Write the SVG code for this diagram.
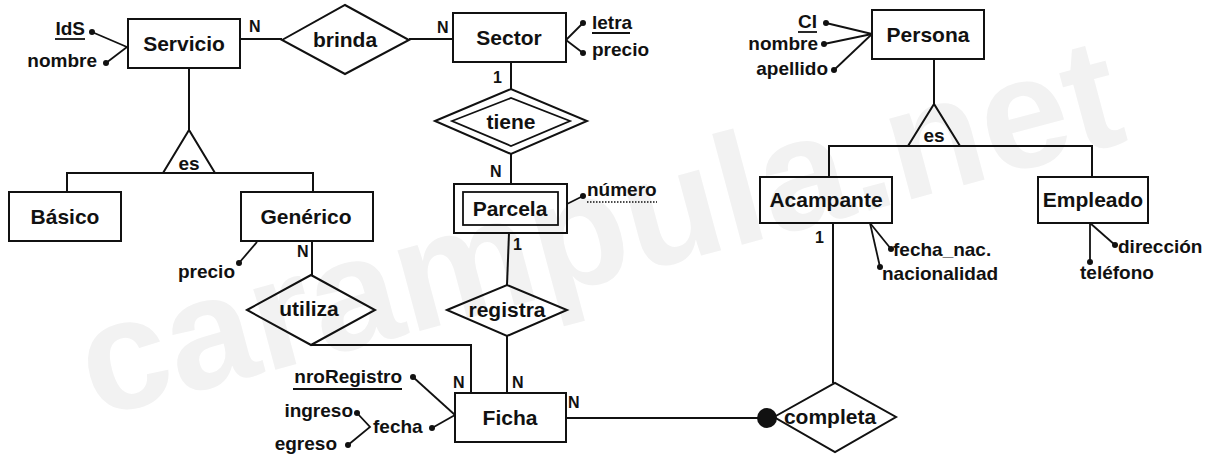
<svg xmlns="http://www.w3.org/2000/svg" width="1216" height="455" viewBox="0 0 1216 455">
<style>
text{font-family:"Liberation Sans",Arial,sans-serif;font-weight:bold;fill:#111}
.ent{font-size:21px;text-anchor:middle}
.rel{font-size:21px;text-anchor:middle}
.att{font-size:19px}
.card{font-size:16px}
.wm{font-size:158px;fill:#f2f2f2}
.box{fill:none;stroke:#111;stroke-width:2}
.ln{fill:none;stroke:#111;stroke-width:2}
.tn{fill:none;stroke:#111;stroke-width:1.8}
.dot{fill:#111}
.end{text-anchor:end}
</style>
<text class="wm" transform="translate(95,418) rotate(-15)">carampula.net</text>

<g id="connectors">
<!-- Servicio attributes -->
<line class="tn" x1="92" y1="32" x2="127" y2="47"/><circle class="dot" cx="92" cy="32" r="3"/>
<line class="tn" x1="106" y1="63" x2="127" y2="47"/><circle class="dot" cx="106" cy="63" r="3"/>
<!-- Servicio ISA -->
<polyline class="ln" points="189,68 189,130"/>
<polyline class="ln" points="67,192 67,173 313,173 313,192"/>
<!-- Servicio brinda Sector -->
<line class="ln" x1="240" y1="39" x2="282" y2="39"/>
<line class="ln" x1="409" y1="39" x2="453" y2="39"/>
<!-- Sector attributes -->
<line class="tn" x1="566" y1="40" x2="583" y2="23"/><circle class="dot" cx="583" cy="23" r="3"/>
<line class="tn" x1="566" y1="40" x2="583" y2="53"/><circle class="dot" cx="583" cy="53" r="3"/>
<!-- Sector tiene Parcela -->
<line class="ln" x1="511" y1="62" x2="511" y2="89"/>
<line class="ln" x1="511" y1="154" x2="511" y2="184"/>
<!-- Parcela attribute -->
<line class="tn" x1="567" y1="204" x2="583" y2="196"/><circle class="dot" cx="583" cy="196" r="3"/>
<!-- Parcela registra Ficha -->
<line class="ln" x1="509" y1="233" x2="507" y2="285"/>
<line class="ln" x1="507" y1="336" x2="507" y2="393"/>
<!-- Generico precio -->
<line class="tn" x1="257" y1="242" x2="239" y2="263"/><circle class="dot" cx="239" cy="263" r="3"/>
<!-- Generico utiliza Ficha -->
<line class="ln" x1="312" y1="241" x2="312" y2="275"/>
<polyline class="ln" points="311,345 471,345 471,393"/>
<!-- Ficha attributes -->
<line class="tn" x1="413" y1="377" x2="455" y2="415"/><circle class="dot" cx="413" cy="377" r="3"/>
<line class="tn" x1="432" y1="428" x2="455" y2="415"/><circle class="dot" cx="432" cy="428" r="3"/>
<polyline class="tn" points="357,413 370,427 348,445"/>
<circle class="dot" cx="357" cy="413" r="3"/><circle class="dot" cx="348" cy="445" r="3"/>
<!-- Ficha completa -->
<line class="ln" x1="566" y1="418" x2="768" y2="418"/>
<circle class="dot" cx="767" cy="418" r="10"/>
<!-- Persona attributes -->
<line class="tn" x1="826" y1="23" x2="872" y2="34"/><circle class="dot" cx="826" cy="23" r="3"/>
<line class="tn" x1="824" y1="44" x2="872" y2="34"/><circle class="dot" cx="824" cy="44" r="3"/>
<line class="tn" x1="834" y1="70" x2="872" y2="34"/><circle class="dot" cx="834" cy="70" r="3"/>
<!-- Persona ISA -->
<line class="ln" x1="934" y1="59" x2="934" y2="104"/>
<polyline class="ln" points="829,177 829,146 1092,146 1092,177"/>
<!-- Acampante completa -->
<line class="ln" x1="833" y1="223" x2="833" y2="383"/>
<!-- Acampante attributes -->
<line class="tn" x1="870" y1="223" x2="891" y2="249"/><circle class="dot" cx="891" cy="249" r="3"/>
<line class="tn" x1="870" y1="223" x2="880" y2="267"/><circle class="dot" cx="880" cy="267" r="3"/>
<!-- Empleado attributes -->
<line class="tn" x1="1090" y1="223" x2="1115" y2="245"/><circle class="dot" cx="1115" cy="245" r="3"/>
<line class="tn" x1="1090" y1="223" x2="1090" y2="262"/><circle class="dot" cx="1090" cy="262" r="3"/>
<!-- cardinalities -->
<text class="card" x="249" y="32">N</text>
<text class="card" x="437" y="33">N</text>
<text class="card" x="493" y="83">1</text>
<text class="card" x="490" y="177">N</text>
<text class="card" x="513" y="250">1</text>
<text class="card" x="297" y="257">N</text>
<text class="card" x="453" y="388">N</text>
<text class="card" x="512" y="388">N</text>
<text class="card" x="568" y="408">N</text>
<text class="card" x="815" y="243">1</text>
</g>

<g id="Servicio"><rect class="box" x="128" y="19" width="112" height="49"/><text class="ent" x="184" y="51">Servicio</text></g>
<g id="attr-IdS"><text class="att end" x="85" y="35">IdS</text><line class="tn" x1="55" y1="39" x2="85" y2="39"/></g>
<g id="attr-Servicio-nombre"><text class="att end" x="97" y="67">nombre</text></g>
<g id="isa-Servicio"><polygon class="box" points="189,130 163,173 215,173"/><text class="rel" x="189" y="170" style="font-size:19px">es</text></g>
<g id="Basico"><rect class="box" x="9" y="192" width="112" height="49"/><text class="ent" x="65" y="224">Básico</text></g>
<g id="Generico"><rect class="box" x="241" y="192" width="132" height="49"/><text class="ent" x="306" y="224">Genérico</text></g>
<g id="attr-Generico-precio"><text class="att end" x="235" y="278">precio</text></g>
<g id="brinda"><polygon class="box" points="282,40 345,5 409,40 345,74"/><text class="rel" x="345" y="47">brinda</text></g>
<g id="Sector"><rect class="box" x="453" y="13" width="113" height="49"/><text class="ent" x="509" y="45">Sector</text></g>
<g id="attr-letra"><text class="att" x="592" y="29">letra</text><line class="tn" x1="592" y1="33" x2="630" y2="33"/></g>
<g id="attr-Sector-precio"><text class="att" x="592" y="56">precio</text></g>
<g id="tiene"><polygon class="box" points="435,121 511,89 587,121 511,154"/><polygon class="tn" points="452,121 511,98 570,121 511,146"/><text class="rel" x="511" y="129">tiene</text></g>
<g id="Parcela"><rect class="box" x="454" y="184" width="113" height="49"/><rect class="tn" x="463" y="192" width="95" height="33"/><text class="ent" x="510" y="216">Parcela</text></g>
<g id="attr-numero"><text class="att" x="587" y="196">número</text><line x1="587" y1="202" x2="657" y2="202" stroke="#111" stroke-width="1.5" stroke-dasharray="1.5,1.5"/></g>
<g id="registra"><polygon class="box" points="447,310 507,285 567,310 507,336"/><text class="rel" x="507" y="317">registra</text></g>
<g id="utiliza"><polygon class="box" points="247,310 311,275 375,310 311,345"/><text class="rel" x="309" y="316">utiliza</text></g>
<g id="Ficha"><rect class="box" x="455" y="393" width="111" height="49"/><text class="ent" x="510" y="425">Ficha</text></g>
<g id="attr-nroRegistro"><text class="att end" x="402" y="383">nroRegistro</text><line class="tn" x1="293" y1="389" x2="402" y2="389"/></g>
<g id="attr-fecha"><text class="att" x="373" y="433">fecha</text></g>
<g id="attr-ingreso"><text class="att end" x="353" y="417">ingreso</text></g>
<g id="attr-egreso"><text class="att end" x="337" y="450">egreso</text></g>
<g id="completa"><polygon class="box" points="774,417 835,383 896,417 835,452"/><text class="rel" x="830" y="424">completa</text></g>
<g id="Persona"><rect class="box" x="872" y="10" width="112" height="49"/><text class="ent" x="928" y="42">Persona</text></g>
<g id="attr-CI"><text class="att end" x="817" y="28">CI</text><line class="tn" x1="798" y1="32" x2="817" y2="32"/></g>
<g id="attr-Persona-nombre"><text class="att end" x="818" y="50">nombre</text></g>
<g id="attr-apellido"><text class="att end" x="828" y="75">apellido</text></g>
<g id="isa-Persona"><polygon class="box" points="934,104 908,146 960,146"/><text class="rel" x="934" y="142" style="font-size:19px">es</text></g>
<g id="Acampante"><rect class="box" x="760" y="177" width="132" height="46"/><text class="ent" x="826" y="207">Acampante</text></g>
<g id="attr-fecha_nac"><text class="att" x="893" y="256">fecha_nac.</text></g>
<g id="attr-nacionalidad"><text class="att" x="882" y="280">nacionalidad</text></g>
<g id="Empleado"><rect class="box" x="1038" y="177" width="110" height="46"/><text class="ent" x="1093" y="207">Empleado</text></g>
<g id="attr-direccion"><text class="att" x="1118" y="253">dirección</text></g>
<g id="attr-telefono"><text class="att" x="1080" y="279">teléfono</text></g>
</svg>
